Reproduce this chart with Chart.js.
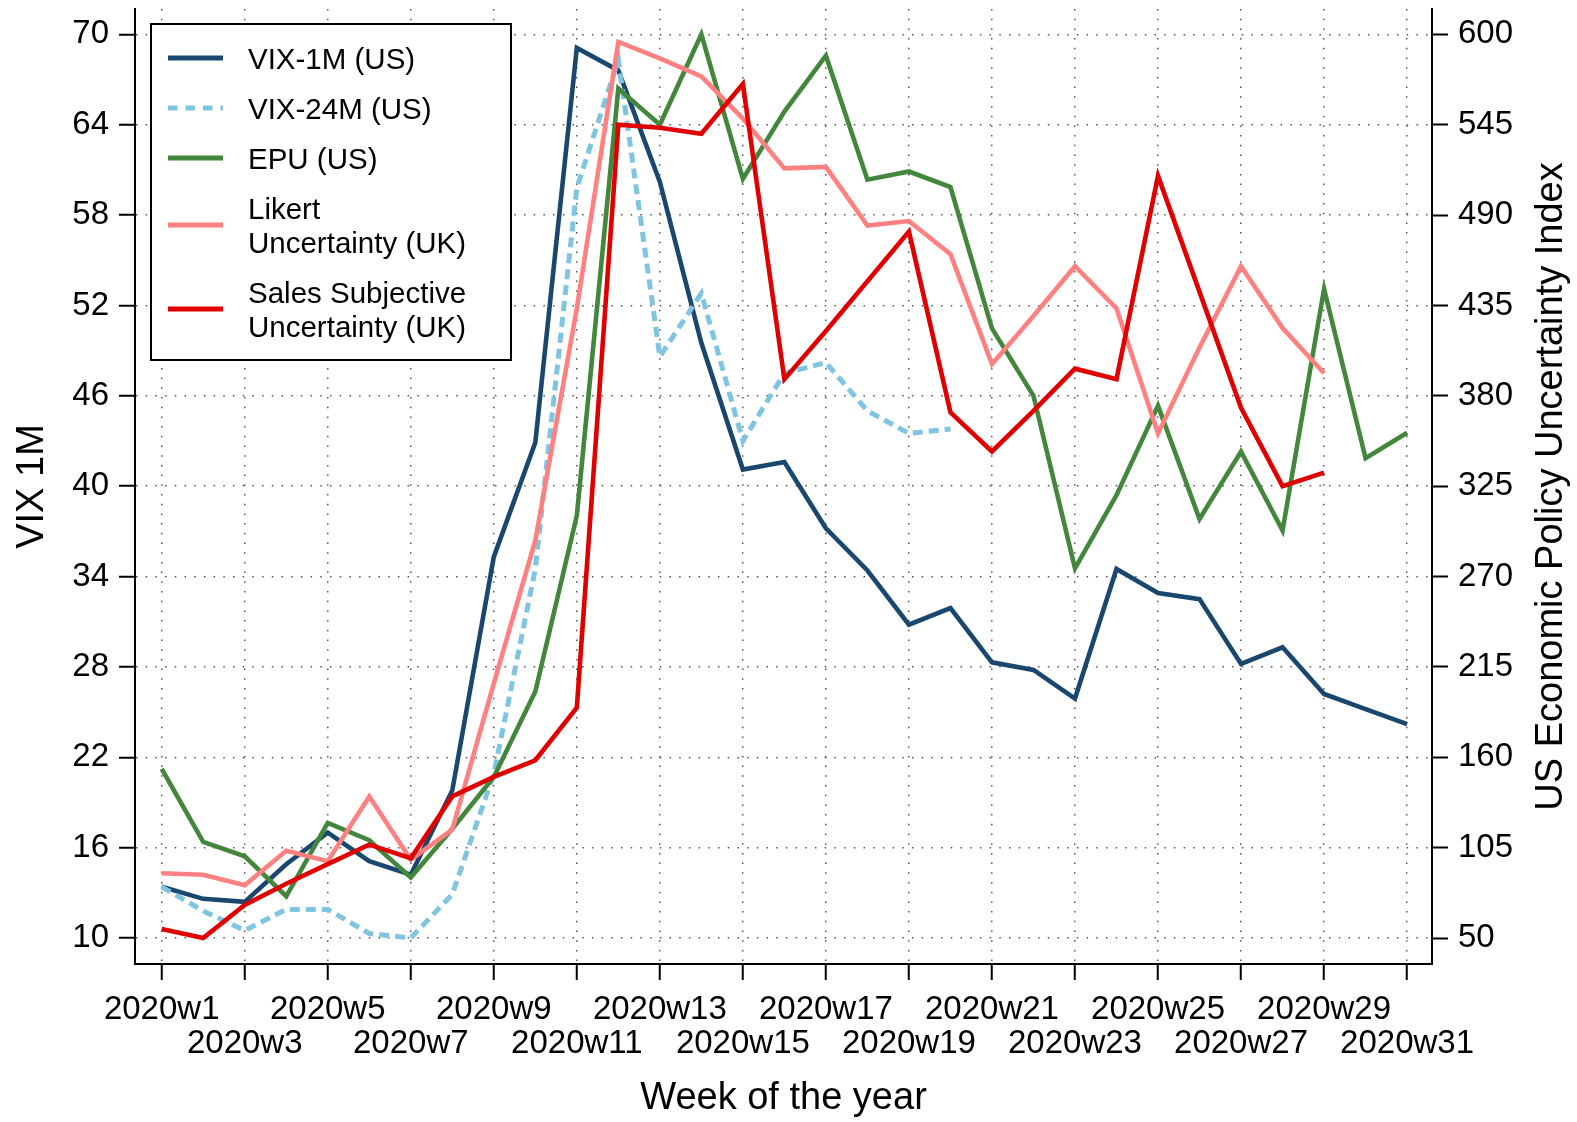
<!DOCTYPE html>
<html>
<head>
<meta charset="utf-8">
<script src="https://cdn.jsdelivr.net/npm/chart.js@4"></script>
<style>
    body { margin: 0; background: #fff; }
    canvas { display: block; }
</style>
</head>
<body>
<canvas id="uncertaintyChart" width="1577" height="1122"></canvas>
<script>
// weeks of 2020, one point per week
const weeks = [1, 2, 3, 4, 5, 6, 7, 8, 9, 10, 11, 12, 13, 14, 15, 16, 17, 18, 19, 20,
    21, 22, 23, 24, 25, 26, 27, 28, 29, 30, 31];
const tickWeeks = [1, 3, 5, 7, 9, 11, 13, 15, 17, 19, 21, 23, 25, 27, 29, 31];
const leftTicks = [10, 16, 22, 28, 34, 40, 46, 52, 58, 64, 70];
const rightTicks = [50, 105, 160, 215, 270, 325, 380, 435, 490, 545, 600];

// left axis (VIX 1M scale)
const vix1m = [13.4, 12.6, 12.4, 14.9, 17.0, 15.1, 14.2, 19.8, 35.3, 42.9, 69.1, 67.6, 60.2, 49.5, 41.1,
    41.6, 37.2, 34.4, 30.8, 31.9, 28.3, 27.8, 25.9, 34.5, 32.9, 32.5, 28.2, 29.3, 26.2, 25.2, 24.2];
const vix24m = [13.4, 11.8, 10.5, 11.9, 11.9, 10.3, 10.0, 12.9, 20.9, 34.5, 59.8, 68.3, 48.6, 52.8, 43.0,
    47.5, 48.2, 45.0, 43.5, 43.8, null, null, null, null, null, null, null, null, null, null, null];
const likert = [14.3, 14.2, 13.5, 15.8, 15.1, 19.4, 15.2, 17.2, 26.9, 36.4, 51.8, 69.5, 68.4, 67.2, 64.4,
    61.1, 61.2, 57.3, 57.6, 55.4, 48.1, 51.3, 54.6, 51.8, 43.5, 49.2, 54.6, 50.5, 47.5, null, null];
const sales = [10.6, 10.0, 12.2, 13.6, 14.9, 16.2, 15.3, 19.4, 20.7, 21.8, 25.3, 64.0, 63.8, 63.4, 66.7,
    47.1, 50.3, 53.6, 56.9, 44.9, 42.3, 45.0, 47.8, 47.1, 60.6, 52.9, 45.2, 40.0, 40.9, null, null];
// right axis (US EPU index)
const epu = [153, 108.5, 99.7, 75.4, 120, 109.5, 86.8, 116.5, 148, 200, 307, 567, 545, 600, 512,
    553, 587, 511.5, 516.5, 507, 421, 380, 275, 319.5, 374, 305, 346, 298, 445, 342, 357.5];

const legendLabels = [
    ['VIX-1M (US)'],
    ['VIX-24M (US)'],
    ['EPU (US)'],
    ['Likert', 'Uncertainty (UK)'],
    ['Sales Subjective', 'Uncertainty (UK)'],
];

const FONT = 'Liberation Sans, Arial, sans-serif';

const toPoints = (values) => weeks.map((w, i) => ({x: w, y: values[i]}));

function makeSet(label, values, color, axis, order, dash) {
    return {
        label: label,
        data: toPoints(values),
        yAxisID: axis,
        borderColor: color,
        backgroundColor: color,
        borderWidth: dash ? 5 : 4.6,
        borderDash: dash || [],
        pointRadius: 0,
        tension: 0,
        spanGaps: false,
        order: order,
    };
}

const datasets = [
    makeSet(legendLabels[0].join(' '), vix1m, '#1a476f', 'y', 5),
    makeSet(legendLabels[1].join(' '), vix24m, '#7fc4e0', 'y', 4, [10, 6]),
    makeSet(legendLabels[2].join(' '), epu, '#42873b', 'y1', 3),
    makeSet(legendLabels[3].join(' '), likert, '#ff8080', 'y', 2),
    makeSet(legendLabels[4].join(' '), sales, '#e00000', 'y', 1),
];

// boxed legend at the top left, two-line entries like the original
const boxLegend = {
    id: 'boxLegend',
    afterDatasetsDraw(chart) {
        const ctx = chart.ctx;
        const rows = [58, 108, 158, 225, 309];
        ctx.save();
        ctx.fillStyle = '#fff';
        ctx.fillRect(151, 24, 360, 336);
        ctx.lineWidth = 2;
        ctx.strokeStyle = '#000';
        ctx.strokeRect(151, 24, 360, 336);
        chart.data.datasets.forEach((ds, i) => {
            const y = rows[i];
            ctx.beginPath();
            ctx.lineWidth = 5;
            ctx.strokeStyle = ds.borderColor;
            ctx.setLineDash(ds.borderDash.length ? [9.5, 8] : []);
            ctx.moveTo(168, y);
            ctx.lineTo(223, y);
            ctx.stroke();
            ctx.setLineDash([]);
            ctx.fillStyle = '#000';
            ctx.font = '29.5px ' + FONT;
            ctx.textBaseline = 'middle';
            ctx.textAlign = 'left';
            const lines = legendLabels[i];
            const start = y + 2.5 - (lines.length - 1) * 17;
            lines.forEach((t, k) => ctx.fillText(t, 248, start + k * 34));
        });
        ctx.restore();
    },
};

// right axis title reads bottom to top, as on the left
const rightTitle = {
    id: 'rightTitle',
    afterDraw(chart) {
        const ctx = chart.ctx;
        const area = chart.chartArea;
        ctx.save();
        ctx.translate(1552, (area.top + area.bottom) / 2);
        ctx.rotate(-Math.PI / 2);
        ctx.fillStyle = '#000';
        ctx.font = '38px ' + FONT;
        ctx.textAlign = 'center';
        ctx.textBaseline = 'middle';
        ctx.fillText('US Economic Policy Uncertainty Index', 0, 0);
        ctx.restore();
    },
};

const gridDots = [1.5, 8.2];

// keep label overhang from shrinking the plot area
const noOverhang = (s) => {
    s.paddingTop = 0;
    s.paddingBottom = 0;
    s.paddingLeft = 0;
    s.paddingRight = 0;
};

new Chart(document.getElementById('uncertaintyChart'), {
    type: 'line',
    data: {datasets: datasets},
    plugins: [boxLegend, rightTitle],
    options: {
        responsive: false,
        devicePixelRatio: 1,
        animation: false,
        layout: {padding: {top: 9, left: 0, right: 0, bottom: 0}},
        plugins: {
            legend: {display: false},
            tooltip: {enabled: false},
        },
        scales: {
            x: {
                type: 'linear',
                position: 'bottom',
                min: 0.357,
                max: 31.6,
                afterBuildTicks: (s) => { s.ticks = tickWeeks.map((v) => ({value: v})); },
                afterFit: (s) => { s.height = 158; noOverhang(s); },
                ticks: {
                    autoSkip: false,
                    maxRotation: 0,
                    minRotation: 0,
                    padding: 13,
                    color: '#000',
                    font: {family: FONT, size: 33, lineHeight: 1.02},
                    callback: (v) => {
                        const k = tickWeeks.indexOf(v);
                        const text = '2020w' + v;
                        return k % 2 === 0 ? [text] : ['', text];
                    },
                },
                grid: {
                    color: '#555',
                    lineWidth: 1.5,
                    tickLength: 16,
                    tickColor: '#000',
                    tickWidth: 2,
                    tickBorderDash: [],
                },
                border: {display: true, color: '#000', width: 2, dash: gridDots},
                title: {
                    display: true,
                    text: 'Week of the year',
                    color: '#000',
                    font: {family: FONT, size: 38},
                    padding: {top: 0, bottom: 1},
                },
            },
            y: {
                position: 'left',
                min: 8.274,
                max: 71.68,
                afterBuildTicks: (s) => { s.ticks = leftTicks.map((v) => ({value: v})); },
                afterFit: (s) => { s.width = 135; noOverhang(s); },
                ticks: {
                    padding: 10,
                    color: '#000',
                    font: {family: FONT, size: 33},
                },
                grid: {
                    color: '#555',
                    lineWidth: 1.5,
                    tickLength: 16,
                    tickColor: '#000',
                    tickWidth: 2,
                    tickBorderDash: [],
                },
                border: {display: true, color: '#000', width: 2, dash: gridDots},
                title: {
                    display: true,
                    text: 'VIX 1M',
                    color: '#000',
                    font: {family: FONT, size: 38},
                    padding: {top: 10, bottom: 0},
                },
            },
            y1: {
                position: 'right',
                min: 34.18,
                max: 615.4,
                afterBuildTicks: (s) => { s.ticks = rightTicks.map((v) => ({value: v})); },
                afterFit: (s) => { s.width = 145; noOverhang(s); },
                ticks: {
                    padding: 10,
                    color: '#000',
                    font: {family: FONT, size: 33},
                },
                grid: {
                    drawOnChartArea: false,
                    tickLength: 16,
                    tickColor: '#000',
                    tickWidth: 2,
                    tickBorderDash: [],
                },
                border: {display: true, color: '#000', width: 2},
            },
        },
    },
});
</script>
</body>
</html>
